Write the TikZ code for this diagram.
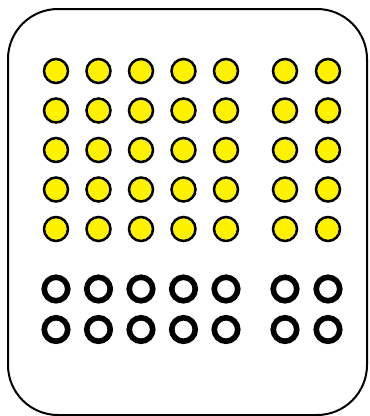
\documentclass[tikz,border=0pt]{standalone}
\begin{document}
\begin{tikzpicture}[x=1pt,y=-1pt,
  ydot/.style={circle,draw=black,fill=yellow,line width=2.5pt,minimum size=24pt,inner sep=0pt},
  ring/.style={circle,draw=black,fill=white,line width=5.6pt,minimum size=23.5pt,inner sep=0pt}]
\useasboundingbox (0,0) rectangle (370,416);
\node[draw,line width=2pt,rounded corners=50pt,minimum width=359pt,minimum height=406pt,inner sep=0pt] (frame) at (187.5,212) {};
\foreach \c/\x in {1/56,2/98.5,3/141,4/183.5,5/226,6/285,7/328}{
  \foreach \r/\y in {1/71,2/110.5,3/150,4/189.5,5/229}{
    \node[ydot] (y\r\c) at (\x,\y) {};
  }
  \foreach \r/\y in {1/289,2/329.5}{
    \node[ring] (o\r\c) at (\x,\y) {};
  }
}
\end{tikzpicture}
\end{document}
